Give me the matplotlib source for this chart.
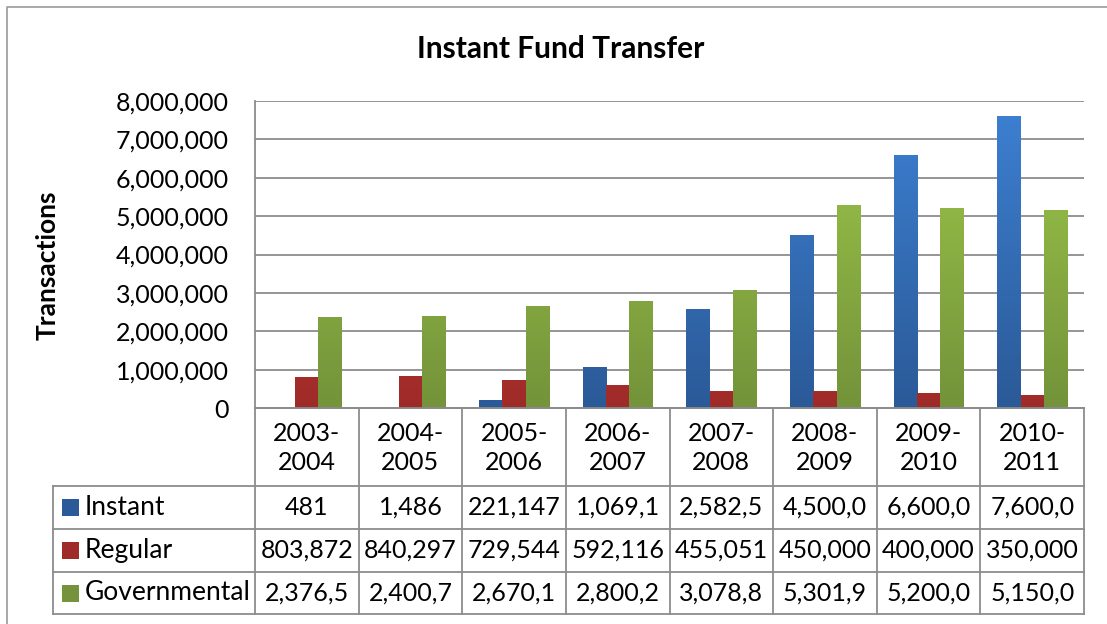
import numpy as np
import matplotlib
matplotlib.use("Agg")
import matplotlib.pyplot as plt
from matplotlib.patches import Rectangle
from matplotlib.colors import LinearSegmentedColormap

plt.rcParams["font.family"] = ["Lato", "DejaVu Sans"]

# ----------------------------------------------------
# data
# ----------------------------------------------------
periods = ["2003-\n2004", "2004-\n2005", "2005-\n2006", "2006-\n2007",
           "2007-\n2008", "2008-\n2009", "2009-\n2010", "2010-\n2011"]
series_names = ["Instant", "Regular", "Governmental"]
instant = [481, 1486, 221147, 1069100, 2582500, 4500000, 6600000, 7600000]
regular = [803872, 840297, 729544, 592116, 455051, 450000, 400000, 350000]
governmental = [2376500, 2400700, 2670100, 2800200, 3078800, 5301900, 5200000, 5150000]
yticks = [0, 1000000, 2000000, 3000000, 4000000, 5000000, 6000000, 7000000, 8000000]

# top / bottom colours of the gradient for each series
colors = [("#3d80d2", "#2b5a98"), ("#d4403c", "#9f2b29"), ("#9dc84b", "#74933a")]
GRID = "#8c8c8c"

W, H = 1107, 624
fig = plt.figure(figsize=(W / 100, H / 100), dpi=100)

# plot area in pixel terms
L, R, T, B = 255, 1084, 101, 408
ax = fig.add_axes([L / W, 1 - B / H, (R - L) / W, (B - T) / H])

n = len(periods)
x = np.arange(n)
bw = 0.225
data = [instant, regular, governmental]

ax.set_xlim(-0.5, n - 0.5)
ax.set_ylim(0, 8000000)

for i, vals in enumerate(data):
    offs = (i - 1) * bw
    bars = ax.bar(x + offs, vals, width=bw, color=colors[i][1], zorder=3, linewidth=0)
    cmap = LinearSegmentedColormap.from_list("g%d" % i, [colors[i][1], colors[i][0]])
    grad = np.linspace(0, 1, 64).reshape(-1, 1)
    for b in bars:
        bx = b.get_x()
        if b.get_height() <= 0:
            continue
        im = ax.imshow(grad, cmap=cmap, aspect="auto", origin="lower",
                       extent=(bx, bx + bw, 0, 8000000), zorder=3.5,
                       interpolation="bilinear")
        im.set_clip_path(b)

ax.set_xlim(-0.5, n - 0.5)
ax.set_ylim(0, 8000000)
ax.set_yticks(yticks)
ax.set_yticklabels([f"{v:,}" for v in yticks], fontsize=18)
ax.tick_params(axis="y", length=0, pad=19)
ax.set_xticks([])
ax.grid(axis="y", color=GRID, linewidth=1.3, zorder=0)
for s in ["top", "right"]:
    ax.spines[s].set_visible(False)
for s in ["left", "bottom"]:
    ax.spines[s].set_color(GRID)
    ax.spines[s].set_linewidth(1.3)

# ----------------------------------------------------
# data table under the chart (pixel overlay)
# ----------------------------------------------------
ov = fig.add_axes([0, 0, 1, 1], zorder=5)
ov.set_xlim(0, W)
ov.set_ylim(H, 0)
ov.axis("off")
ov.patch.set_alpha(0)

# chart frame
ov.plot([7, 7, W], [H, 7, 7], color="#9a9a9a", lw=1.2)

cw = (R - L) / n
LBL = 53
rows_y = [486, 529, 572, 614]
HDR = 408

ov.plot([L, R], [HDR, HDR], color=GRID, lw=1.3)
for yy in rows_y:
    ov.plot([LBL, R], [yy, yy], color=GRID, lw=1.3)
ov.plot([LBL, LBL], [rows_y[0], rows_y[-1]], color=GRID, lw=1.3)
for j in range(n + 1):
    ov.plot([L + j * cw, L + j * cw], [HDR, rows_y[-1]], color=GRID, lw=1.3)

for j, p in enumerate(periods):
    ov.text(L + (j + 0.5) * cw, (HDR + rows_y[0]) / 2 + 1, p, ha="center", va="center",
            fontsize=18, linespacing=1.35)

for i, vals in enumerate(data):
    cy = (rows_y[i] + rows_y[i + 1]) / 2
    for j, v in enumerate(vals):
        ov.text(L + (j + 0.5) * cw, cy, f"{v:,}"[:7], ha="center", va="center", fontsize=18)
    # legend key with gradient
    key = Rectangle((62, cy - 8.5), 17, 17, facecolor=colors[i][1], lw=0)
    ov.add_patch(key)
    cmap = LinearSegmentedColormap.from_list("k%d" % i, [colors[i][0], colors[i][1]])
    im = ov.imshow(np.linspace(0, 1, 32).reshape(-1, 1), cmap=cmap, aspect="auto",
                   extent=(62, 79, cy + 8.5, cy - 8.5), origin="upper")
    im.set_clip_path(key)
    ov.text(85, cy, series_names[i], ha="left", va="center", fontsize=19)

ov.set_xlim(0, W)
ov.set_ylim(H, 0)

fig.text(561 / W, 1 - 49 / H, "Instant Fund Transfer", ha="center", va="center",
         fontsize=21.5, fontweight="bold")
fig.text(48 / W, 1 - 265 / H, "Transactions", ha="center", va="center",
         rotation=90, fontsize=19, fontweight="bold")

fig.savefig("out.png", dpi=100)
